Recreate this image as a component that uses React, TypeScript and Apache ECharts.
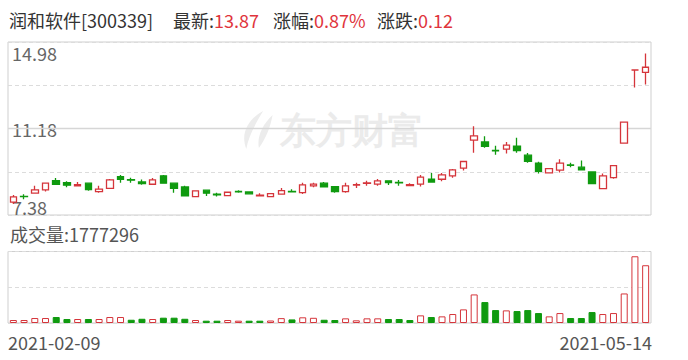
import React, { useEffect, useRef } from "react";
import * as echarts from "echarts";

const stockName = "润和软件";
const stockCode = "300339";

const dates = [
  "2021-02-09", "2021-02-10", "2021-02-18", "2021-02-19", "2021-02-22", "2021-02-23", "2021-02-24", "2021-02-25", "2021-02-26",
  "2021-03-01", "2021-03-02", "2021-03-03", "2021-03-04", "2021-03-05", "2021-03-08", "2021-03-09", "2021-03-10", "2021-03-11",
  "2021-03-12", "2021-03-15", "2021-03-16", "2021-03-17", "2021-03-18", "2021-03-19", "2021-03-22", "2021-03-23", "2021-03-24",
  "2021-03-25", "2021-03-26", "2021-03-29", "2021-03-30", "2021-03-31",
  "2021-04-01", "2021-04-02", "2021-04-06", "2021-04-07", "2021-04-08", "2021-04-09", "2021-04-12", "2021-04-13", "2021-04-14",
  "2021-04-15", "2021-04-16", "2021-04-19", "2021-04-20", "2021-04-21", "2021-04-22", "2021-04-23", "2021-04-26", "2021-04-27",
  "2021-04-28", "2021-04-29", "2021-04-30",
  "2021-05-06", "2021-05-07", "2021-05-10", "2021-05-11", "2021-05-12", "2021-05-13", "2021-05-14",
];

const opens = [
  7.95, 8.20, 8.34, 8.48, 8.89, 8.80, 8.66, 8.78, 8.41, 8.55,
  9.07, 8.93, 8.83, 8.73, 9.10, 8.78, 8.61, 8.19, 8.47, 8.30,
  8.23, 8.42, 8.39, 8.22, 8.19, 8.30, 8.42, 8.36, 8.66, 8.78,
  8.63, 8.41, 8.69, 8.77, 8.74, 8.88, 8.81, 8.67, 8.74, 8.95,
  8.95, 9.10, 9.44, 10.67, 10.59, 10.22, 10.27, 10.40, 10.01, 9.66,
  9.23, 9.35, 9.58, 9.48, 9.27, 8.54, 9.02, 10.54, 13.75, 13.65,
];
const closes = [
  8.18, 8.19, 8.48, 8.78, 8.73, 8.69, 8.71, 8.50, 8.52, 8.92,
  8.95, 8.91, 8.76, 8.92, 8.78, 8.55, 8.22, 8.44, 8.34, 8.26,
  8.38, 8.40, 8.31, 8.25, 8.32, 8.45, 8.40, 8.70, 8.74, 8.62,
  8.41, 8.66, 8.71, 8.79, 8.88, 8.80, 8.79, 8.71, 9.04, 8.83,
  9.14, 9.36, 9.73, 10.86, 10.40, 10.20, 10.45, 10.21, 9.74, 9.30,
  9.42, 9.66, 9.56, 9.36, 8.76, 9.10, 9.55, 11.46, 13.75, 13.87,
];
const lows = [
  7.86, 8.07, 8.34, 8.41, 8.73, 8.60, 8.66, 8.45, 8.36, 8.55,
  8.80, 8.80, 8.71, 8.73, 8.78, 8.36, 8.20, 8.16, 8.22, 8.19,
  8.23, 8.36, 8.28, 8.22, 8.19, 8.28, 8.38, 8.30, 8.60, 8.60,
  8.36, 8.36, 8.57, 8.67, 8.67, 8.70, 8.67, 8.66, 8.63, 8.80,
  8.86, 9.02, 9.33, 10.12, 10.33, 10.03, 10.08, 10.12, 9.67, 9.20,
  9.23, 9.25, 9.48, 9.34, 8.76, 8.54, 8.97, 10.54, 12.98, 13.11,
];
const highs = [
  8.26, 8.29, 8.67, 8.80, 9.01, 8.86, 8.83, 8.78, 8.67, 8.96,
  9.14, 9.02, 8.94, 9.00, 9.14, 8.80, 8.67, 8.46, 8.48, 8.36,
  8.38, 8.47, 8.40, 8.34, 8.34, 8.57, 8.51, 8.80, 8.80, 8.83,
  8.63, 8.80, 8.80, 8.89, 8.96, 8.89, 8.92, 8.78, 9.14, 9.22,
  9.22, 9.40, 9.75, 11.28, 10.84, 10.42, 10.59, 10.77, 10.10, 9.72,
  9.42, 9.83, 9.68, 9.77, 9.27, 9.20, 9.55, 11.46, 13.75, 14.47,
];
const volumes = [
  92000, 92000, 153000, 153000, 184000, 123000, 123000, 123000, 123000, 184000,
  184000, 100000, 130000, 123000, 163000, 163000, 130000, 92000, 71000, 71000,
  92000, 71000, 71000, 71000, 76000, 150000, 110000, 175000, 160000, 100000,
  92000, 143000, 82000, 143000, 143000, 123000, 123000, 92000, 235000, 184000,
  204000, 276000, 419000, 879000, 644000, 398000, 388000, 368000, 398000, 306000,
  204000, 306000, 153000, 153000, 337000, 276000, 306000, 909000, 2053000, 1777296,
];

const priceTicks = [7.38, 11.18, 14.98];
const volMax = 2200000;

const RED = "#d5353b";
const TXT_RED = "#e0343c";
const GREEN = "#0f9a0f";
const FONT = '"Microsoft YaHei", "Noto Sans CJK SC", sans-serif';

echarts.graphic.registerShape(
  "logo",
  echarts.graphic.extendPath(
    "M22 0 C8 8 0 22 6 38 C8 26 14 14 22 0 Z M31 4 C21 14 16 26 18 37 C25 27 29 16 31 4 Z",
    {}
  )
);

export default function App() {
  const ref = useRef<HTMLDivElement>(null);

  useEffect(() => {
    if (!ref.current) return;
    const chart = echarts.init(ref.current, null, { renderer: "svg" });

    const n = closes.length;
    const last = closes[n - 1];
    const prev = closes[n - 2];
    const chg = last - prev;
    const pct = (chg / prev) * 100;

    const kData = opens.map((o, i) => [o, closes[i], lows[i], highs[i]]);
    const volData = volumes.map((v, i) => {
      const up = i === 0 ? closes[i] >= opens[i] : closes[i] >= closes[i - 1];
      return {
        value: v,
        itemStyle: {
          color: up ? "#ffffff" : GREEN,
          borderColor: up ? RED : GREEN,
          borderWidth: 1,
        },
      };
    });

    const pMin = priceTicks[0];
    const pMax = priceTicks[priceTicks.length - 1];
    const near = (a: number, b: number) => Math.abs(a - b) < 0.005;

    const gridLeft = 8;
    const gridWidth = 643;

    chart.setOption({
      animation: false,
      textStyle: { fontFamily: FONT },
      grid: [
        { left: gridLeft, width: gridWidth, top: 42, height: 173, show: true, borderColor: "#cfcfcf", borderWidth: 1, backgroundColor: "transparent" },
        { left: gridLeft, width: gridWidth, top: 251.5, height: 71.5, show: true, borderColor: "#cfcfcf", borderWidth: 1, backgroundColor: "transparent" },
      ],
      xAxis: [
        { type: "category", gridIndex: 0, data: dates, boundaryGap: true, axisLine: { show: false }, axisTick: { show: false }, axisLabel: { show: false }, splitLine: { show: false } },
        { type: "category", gridIndex: 1, data: dates, boundaryGap: true, axisLine: { show: false }, axisTick: { show: false }, axisLabel: { show: false }, splitLine: { show: false } },
      ],
      yAxis: [
        {
          type: "value",
          gridIndex: 0,
          min: pMin,
          max: pMax,
          interval: (pMax - pMin) / 4,
          axisLine: { show: false },
          axisTick: { show: false },
          splitLine: { show: true, lineStyle: { color: "#dcdcdc", type: [4, 3], width: 1 } },
          axisLabel: {
            inside: true,
            margin: 4,
            fontFamily: FONT,
            formatter: (v: number) => {
              if (near(v, priceTicks[2])) return "{t|" + priceTicks[2].toFixed(2) + "}";
              if (near(v, priceTicks[1])) return "{m|" + priceTicks[1].toFixed(2) + "}";
              if (near(v, priceTicks[0])) return "{b|" + priceTicks[0].toFixed(2) + "}";
              return "";
            },
            rich: {
              t: { fontSize: 18, color: "#666", fontFamily: FONT, padding: [22, 0, 0, 0] },
              m: { fontSize: 18, color: "#666", fontFamily: FONT },
              b: { fontSize: 18, color: "#666", fontFamily: FONT, padding: [0, 0, 17, 0] },
            },
          },
        },
        {
          type: "value",
          gridIndex: 1,
          min: 0,
          max: volMax,
          interval: volMax / 2,
          axisLine: { show: false },
          axisTick: { show: false },
          axisLabel: { show: false },
          splitLine: { show: true, lineStyle: { color: "#dcdcdc", type: [4, 3], width: 1 } },
        },
      ],
      series: [
        {
          type: "candlestick",
          xAxisIndex: 0,
          yAxisIndex: 0,
          data: kData,
          barWidth: 7,
          silent: true,
          z: 3,
          itemStyle: {
            color: "#ffffff",
            color0: GREEN,
            borderColor: RED,
            borderColor0: GREEN,
            borderColorDoji: RED,
            borderWidth: 1.3,
          },
          markLine: {
            silent: true,
            symbol: ["none", "none"],
            label: { show: false },
            lineStyle: { color: "#d6d6d6", type: "solid", width: 1.3 },
            data: [{ yAxis: priceTicks[1] }],
            z: 1,
          },
        },
        {
          type: "bar",
          xAxisIndex: 1,
          yAxisIndex: 1,
          data: volData,
          barWidth: 7,
          silent: true,
        },
      ],
      graphic: [
        {
          type: "logo",
          x: 240,
          y: 111,
          scaleX: 1.05,
          scaleY: 1,
          z: 0,
          silent: true,
          style: { fill: "#ececec" },
        },
        {
          type: "text",
          x: 280,
          y: 130,
          z: 0,
          silent: true,
          style: { text: "东方财富", fontSize: 36, fontWeight: "bold", fill: "#ebebeb", font: "bold 36px " + FONT, verticalAlign: "middle" },
        },
        {
          type: "text",
          x: 9,
          y: 20,
          style: { text: stockName + "[" + stockCode + "]", font: "18px " + FONT, fill: "#333", verticalAlign: "middle" },
        },
        {
          type: "text",
          x: 173,
          y: 20,
          style: {
            text: "{l|最新:}{v|" + last.toFixed(2) + "}",
            verticalAlign: "middle",
            rich: { l: { fontSize: 18, fontFamily: FONT, fill: "#333" }, v: { fontSize: 18, fontFamily: FONT, fill: TXT_RED } },
          },
        },
        {
          type: "text",
          x: 273,
          y: 20,
          style: {
            text: "{l|涨幅:}{v|" + pct.toFixed(2) + "%}",
            verticalAlign: "middle",
            rich: { l: { fontSize: 18, fontFamily: FONT, fill: "#333" }, v: { fontSize: 18, fontFamily: FONT, fill: TXT_RED } },
          },
        },
        {
          type: "text",
          x: 377,
          y: 20,
          style: {
            text: "{l|涨跌:}{v|" + chg.toFixed(2) + "}",
            verticalAlign: "middle",
            rich: { l: { fontSize: 18, fontFamily: FONT, fill: "#333" }, v: { fontSize: 18, fontFamily: FONT, fill: TXT_RED } },
          },
        },
        {
          type: "text",
          x: 10,
          y: 233.5,
          style: { text: "成交量:" + volumes[n - 1], font: "18px " + FONT, fill: "#555", verticalAlign: "middle" },
        },
        {
          type: "text",
          x: 8,
          y: 341.5,
          style: { text: dates[0], font: "18px " + FONT, fill: "#555", verticalAlign: "middle" },
        },
        {
          type: "text",
          x: gridLeft + gridWidth + 1,
          y: 341.5,
          style: { text: dates[n - 1], font: "18px " + FONT, fill: "#555", verticalAlign: "middle", align: "right" },
        },
      ],
    });

    return () => chart.dispose();
  }, []);

  return (
    <div
      ref={ref}
      style={{ position: "absolute", left: 0, top: 0, width: 688, height: 360, background: "#fff" }}
    />
  );
}
